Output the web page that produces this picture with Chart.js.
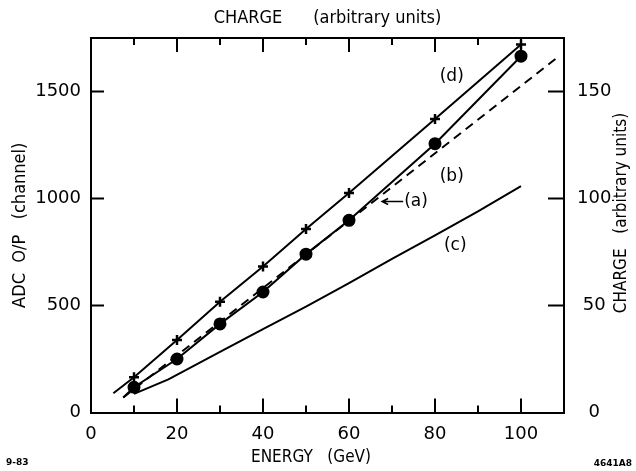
<!DOCTYPE html>
<html>
<head>
<meta charset="utf-8">
<script src="https://cdn.jsdelivr.net/npm/chart.js@4.4.0/dist/chart.umd.min.js"></script>
<style>
  html, body { margin: 0; padding: 0; background: #fff; }
  #chart { display: block; }
</style>
</head>
<body>
<canvas id="chart" width="636" height="471"></canvas>
<script>
// curve (a): dashed reference line
const energyA = [7.5, 108];
const adcA = [70, 1652];
// curve (b): measured, dots
const energyB = [7.5, 10, 20, 30, 40, 50, 60, 80, 100];
const adcB = [70, 118, 250, 414, 563, 740, 898, 1256, 1665];
// curve (c): solid, no markers
const energyC = [10, 18, 30, 40, 50, 60, 70, 80, 90, 100];
const adcC = [87, 155, 283, 390, 495, 605, 718, 828, 940, 1058];
// curve (d): measured, crosses
const energyD = [5.2, 10, 20, 30, 40, 50, 60, 80, 100];
const adcD = [90, 165, 339, 518, 682, 857, 1026, 1372, 1720];

const xMajorTicks = [0, 20, 40, 60, 80, 100];
const xMinorTicks = [10, 30, 50, 70, 90];
const adcTicks = [0, 500, 1000, 1500];
const chargeTicks = [0, 50, 100, 150];

const titleFamily = "'Liberation Sans Narrow', 'DejaVu Sans Condensed', 'Liberation Sans', sans-serif";
const tickFamily = "'DejaVu Sans', sans-serif";

// text labels placed on the curves (data coordinates)
const curveNotes = [
  { text: '(d)', x: 83.9, y: 1571 },
  { text: '(b)', x: 83.9, y: 1103 },
  { text: '(a)', x: 75.6, y: 986 },
  { text: '(c)', x: 84.7, y: 779 }
];

function toPoints(xs, ys) {
  return xs.map((x, i) => ({ x: x, y: ys[i] }));
}

function fixedTicks(values) {
  return scale => { scale.ticks = values.map(v => ({ value: v })); };
}

const inwardTicks = {
  id: 'inwardTicks',
  afterDraw(chart) {
    const { ctx, chartArea: a, scales } = chart;
    ctx.save();
    ctx.strokeStyle = '#000';
    ctx.lineWidth = 2;
    ctx.beginPath();
    xMajorTicks.forEach(v => {
      if (v === 0) return;
      const px = scales.x.getPixelForValue(v);
      ctx.moveTo(px, a.bottom); ctx.lineTo(px, a.bottom - 14);
      ctx.moveTo(px, a.top); ctx.lineTo(px, a.top + 14);
    });
    xMinorTicks.forEach(v => {
      const px = scales.x.getPixelForValue(v);
      ctx.moveTo(px, a.bottom); ctx.lineTo(px, a.bottom - 7);
      ctx.moveTo(px, a.top); ctx.lineTo(px, a.top + 7);
    });
    adcTicks.forEach(v => {
      if (v === 0) return;
      const py = scales.y.getPixelForValue(v);
      ctx.moveTo(a.left, py); ctx.lineTo(a.left + 13, py);
    });
    chargeTicks.forEach(v => {
      if (v === 0) return;
      const py = scales.y2.getPixelForValue(v);
      ctx.moveTo(a.right, py); ctx.lineTo(a.right - 16, py);
    });
    ctx.stroke();

    // curve labels
    ctx.fillStyle = '#000';
    ctx.font = "17px " + tickFamily;
    ctx.textAlign = 'center';
    ctx.textBaseline = 'middle';
    curveNotes.forEach(n => {
      ctx.fillText(n.text, scales.x.getPixelForValue(n.x), scales.y.getPixelForValue(n.y));
    });

    // arrow from "(a)" to the dashed line
    const ay = scales.y.getPixelForValue(986);
    const ax0 = scales.x.getPixelForValue(72.6);
    const ax1 = scales.x.getPixelForValue(67.7);
    ctx.lineWidth = 1.5;
    ctx.beginPath();
    ctx.moveTo(ax0, ay); ctx.lineTo(ax1, ay);
    ctx.moveTo(ax1 + 6, ay - 3); ctx.lineTo(ax1, ay); ctx.lineTo(ax1 + 6, ay + 3);
    ctx.stroke();

    // bottom axis title (sits a little left of the plot centre)
    ctx.font = "17px " + titleFamily;
    ctx.fillText('ENERGY   (GeV)', 311, 458);

    // right axis title, reading bottom to top
    ctx.save();
    ctx.translate(622, 213);
    ctx.rotate(-Math.PI / 2);
    ctx.fillText('CHARGE   (arbitrary units)', 0, 0);
    ctx.restore();

    // figure codes in the corners
    ctx.font = "bold 9px " + tickFamily;
    ctx.textAlign = 'left';
    ctx.fillText('9-83', 6, 463);
    ctx.textAlign = 'right';
    ctx.fillText('4641A8', 632, 464);
    ctx.restore();
  }
};

const plainNumber = v => String(v);

new Chart(document.getElementById('chart'), {
  type: 'line',
  data: {
    datasets: [
      {
        label: '(d)',
        data: toPoints(energyD, adcD),
        borderColor: '#000',
        backgroundColor: '#000',
        borderWidth: 2,
        pointStyle: 'cross',
        pointRadius: energyD.map((e, i) => i === 0 ? 0 : 5),
        pointBorderWidth: 2.5,
        tension: 0
      },
      {
        label: '(b)',
        data: toPoints(energyB, adcB),
        borderColor: '#000',
        backgroundColor: '#000',
        borderWidth: 2,
        pointStyle: 'circle',
        pointRadius: energyB.map((e, i) => i === 0 ? 0 : 5.5),
        tension: 0
      },
      {
        label: '(a)',
        data: toPoints(energyA, adcA),
        borderColor: '#000',
        borderWidth: 2,
        borderDash: [9, 6],
        pointRadius: 0,
        tension: 0
      },
      {
        label: '(c)',
        data: toPoints(energyC, adcC),
        borderColor: '#000',
        borderWidth: 2,
        pointRadius: 0,
        tension: 0
      }
    ]
  },
  options: {
    responsive: false,
    animation: false,
    layout: { padding: 0 },
    plugins: { legend: { display: false }, tooltip: { enabled: false } },
    scales: {
      x: {
        type: 'linear',
        position: 'bottom',
        min: 0,
        max: 110,
        afterBuildTicks: fixedTicks(xMajorTicks),
        afterFit: s => { s.height = 58.5; },
        grid: { display: false, drawTicks: false },
        border: { display: true, color: '#000', width: 2 },
        ticks: { color: '#000', padding: 11, callback: plainNumber, font: { family: tickFamily, size: 18 } }
      },
      x2: {
        type: 'linear',
        position: 'top',
        min: 0,
        max: 110,
        afterBuildTicks: fixedTicks(xMajorTicks),
        afterFit: s => { s.height = 38; },
        grid: { display: false, drawTicks: false },
        border: { display: true, color: '#000', width: 2 },
        ticks: { display: false },
        title: {
          display: true,
          text: 'CHARGE      (arbitrary units)',
          color: '#000',
          font: { family: titleFamily, size: 18 },
          padding: { top: 8, bottom: 0 }
        }
      },
      y: {
        type: 'linear',
        position: 'left',
        min: 0,
        max: 1750,
        afterBuildTicks: fixedTicks(adcTicks),
        afterFit: s => { s.width = 91; },
        grid: { display: false, drawTicks: false },
        border: { display: true, color: '#000', width: 2 },
        ticks: { color: '#000', padding: 10, callback: plainNumber, font: { family: tickFamily, size: 18 } },
        title: {
          display: true,
          text: 'ADC  O/P   (channel)',
          color: '#000',
          font: { family: titleFamily, size: 18 },
          padding: { top: 10, bottom: 0 }
        }
      },
      y2: {
        type: 'linear',
        position: 'right',
        min: 0,
        max: 175,
        afterBuildTicks: fixedTicks(chargeTicks),
        afterFit: s => { s.width = 72; },
        grid: { display: false, drawTicks: false },
        border: { display: true, color: '#000', width: 2 },
        ticks: { color: '#000', padding: 13, crossAlign: 'center', callback: plainNumber, font: { family: tickFamily, size: 18 } }
      }
    }
  },
  plugins: [inwardTicks]
});
</script>
</body>
</html>
